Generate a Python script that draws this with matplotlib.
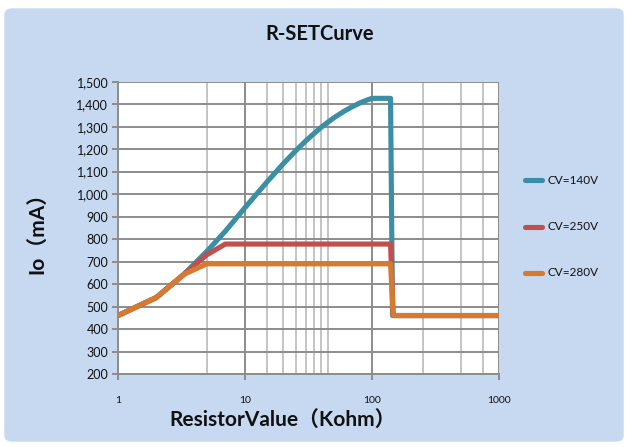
import matplotlib
matplotlib.use("Agg")
import matplotlib.pyplot as plt
from matplotlib.patches import FancyBboxPatch
from matplotlib.ticker import FixedLocator, FuncFormatter, NullLocator

# ---- data ----
x_140 = [1, 2, 3.3, 5, 7, 10, 15, 20, 25, 30, 35, 40, 45, 50, 60, 70, 80, 90, 100, 140, 145, 1000]
y_140 = [460, 540, 643, 745, 835, 940, 1056, 1135, 1192, 1236, 1270, 1298, 1320, 1339, 1368, 1389, 1405, 1417, 1426, 1426, 460, 460]

x_250 = [1, 2, 3.3, 5, 7, 140, 147, 1000]
y_250 = [460, 540, 643, 730, 778, 778, 460, 460]

x_280 = [1, 2, 3.3, 5, 140, 147, 1000]
y_280 = [460, 540, 643, 690, 690, 460, 460]

series_labels = ["CV=140V", "CV=250V", "CV=280V"]
title = "R-SETCurve"
xlabel = "ResistorValue（Kohm）"
ylabel = "Io（mA）"
x_ticks = [1, 10, 100, 1000]
y_ticks = list(range(200, 1501, 100))
minor_grid_x = [5, 15, 20, 25, 30, 35, 40, 45, 250, 500, 750]
major_grid_x = [10, 100]

colors = ["#3A8EA5", "#C0504D", "#D67A30"]
fonts = ["Lato", "Noto Sans CJK SC", "DejaVu Sans"]
plt.rcParams["font.family"] = fonts

W, H = 628, 447
fig = plt.figure(figsize=(W / 100, H / 100), dpi=100)
fig.patch.set_facecolor("white")

bg = FancyBboxPatch((5 / W, 6 / H), (618 / W), (432 / H),
                    boxstyle="round,pad=0,rounding_size=0.012",
                    transform=fig.transFigure, facecolor="#C6D9F1",
                    edgecolor="#C6D9F1", zorder=-10)
fig.patches.append(bg)

ax = fig.add_axes([118 / W, 1 - 374 / H, (499 - 118) / W, (374 - 81.7) / H])
ax.set_zorder(1)
ax.set_facecolor("white")
ax.set_xscale("log")
ax.set_xlim(1, 1000)
ax.set_ylim(200, 1500)

# grid
for gx in minor_grid_x:
    ax.axvline(gx, color="#C4C4C4", lw=1.4, zorder=1)
for gx in major_grid_x:
    ax.axvline(gx, color="#8C8C8C", lw=1.4, zorder=1)
for gy in y_ticks:
    ax.axhline(gy, color="#8C8C8C", lw=1.4, zorder=1)
ax.axvline(1000, color="#8C8C8C", lw=1.4, zorder=1)

lw = 3.7
ax.plot(x_140, y_140, color=colors[0], lw=lw, solid_joinstyle="round", solid_capstyle="round", zorder=3)
ax.plot(x_250, y_250, color=colors[1], lw=lw, solid_joinstyle="round", solid_capstyle="round", zorder=4)
ax.plot(x_280, y_280, color=colors[2], lw=lw, solid_joinstyle="round", solid_capstyle="round", zorder=5)

for s in ["top", "right"]:
    ax.spines[s].set_visible(False)
for s in ["left", "bottom"]:
    ax.spines[s].set_color("#8C8C8C")
    ax.spines[s].set_linewidth(1.4)

ax.xaxis.set_major_locator(FixedLocator(x_ticks))
ax.xaxis.set_minor_locator(NullLocator())
ax.xaxis.set_major_formatter(FuncFormatter(lambda v, p: f"{int(round(v))}"))
ax.yaxis.set_major_locator(FixedLocator(y_ticks))
ax.yaxis.set_major_formatter(FuncFormatter(lambda v, p: f"{int(v):,}"))
ax.tick_params(axis="x", length=4, width=1.4, color="#8C8C8C", labelsize=7.5, pad=12, labelcolor="#111111")
ax.tick_params(axis="y", length=4, width=1.4, color="#8C8C8C", labelsize=9, pad=3, labelcolor="#111111")

fig.text(320 / W, 1 - 34 / H, title, ha="center", va="center", fontsize=14.5, fontweight="bold", color="#111111")
fig.text(283 / W, 1 - 420 / H, xlabel, ha="center", va="center", fontsize=15, fontweight="bold", color="#111111")
fig.text(37 / W, 1 - 228 / H, ylabel, ha="center", va="center", fontsize=15, fontweight="bold", rotation=90, color="#111111")

# legend
leg_y = [180, 227, 273]
for lab, c, yy in zip(series_labels, colors, leg_y):
    fy = 1 - yy / H
    fig.add_artist(plt.Line2D([525 / W, 542 / W], [fy, fy], color=c, lw=lw, solid_capstyle="round",
                              transform=fig.transFigure))
    fig.text(547 / W, fy, lab, ha="left", va="center", fontsize=8.5, color="#111111")

fig.savefig("out.png", dpi=100, facecolor="white")
